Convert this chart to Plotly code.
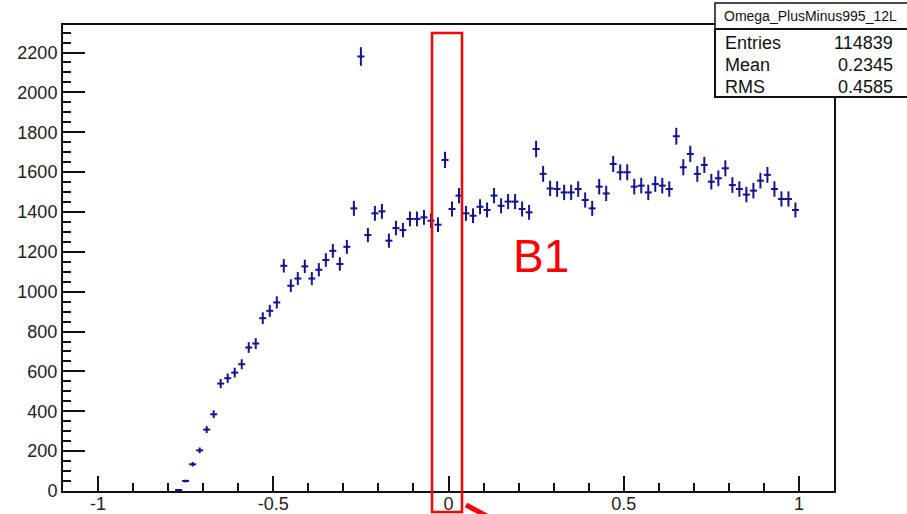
import numpy as np
import plotly.graph_objects as go

# Histogram of Omega_PlusMinus995_12L: filled bins, width 0.02, starting at -0.78
bin_low_edge = -0.78
bin_width = 0.02
counts = [
    5, 50, 134, 204, 308, 385, 539, 566, 594, 636,
    720, 740, 867, 904, 946, 1130, 1030, 1066, 1127, 1066,
    1110, 1159, 1205, 1139, 1225, 1418, 2180, 1284, 1393, 1403,
    1256, 1319, 1309, 1365, 1365, 1373, 1356, 1336, 1661, 1415,
    1482, 1393, 1381, 1426, 1410, 1482, 1431, 1452, 1452, 1415,
    1398, 1716, 1591, 1518, 1515, 1498, 1498, 1515, 1460, 1418,
    1527, 1493, 1641, 1599, 1599, 1527, 1532, 1498, 1540, 1532,
    1515, 1780, 1624, 1691, 1591, 1636, 1552, 1569, 1619, 1535,
    1515, 1487, 1507, 1557, 1586, 1515, 1465, 1465, 1410,
]
x_tick_vals = [-1, -0.5, 0, 0.5, 1]
x_tick_text = ["-1", "-0.5", "0", "0.5", "1"]

stats_title = "Omega_PlusMinus995_12L"
stats_rows = [("Entries", "114839"), ("Mean", "0.2345"), ("RMS", "0.4585")]

centers = bin_low_edge + bin_width * (np.arange(len(counts)) + 0.5)
errors = np.sqrt(np.array(counts, dtype=float))

W, H = 907, 514
L, R, T, B = 63, 834, 25, 491  # frame in pixels


def px(xp):
    return (xp - L) / (R - L)


def py(yp):
    return (B - yp) / (B - T)


navy = "#14148c"
fig = go.Figure()
fig.add_trace(go.Scatter(
    x=centers, y=counts, mode="markers",
    marker=dict(size=2, color=navy),
    error_x=dict(type="constant", value=bin_width / 2, width=0, thickness=2, color=navy),
    error_y=dict(type="data", array=errors, width=0, thickness=2, color=navy),
    showlegend=False, hoverinfo="x+y",
))

font_main = "Liberation Sans, Arial, Helvetica, sans-serif"
axis_common = dict(
    showline=True, linecolor="#111", linewidth=2, mirror=True, automargin=False,
    showgrid=False, zeroline=False, ticks="inside", tickcolor="#111",
    tickwidth=1.5, tickfont=dict(family=font_main, size=18, color="#222"),
)
fig.update_xaxes(
    range=[-1.1, 1.1], tickmode="array", tickvals=x_tick_vals, ticktext=x_tick_text,
    ticklen=15, ticklabelstandoff=-5,
    minor=dict(tickmode="linear", tick0=-1, dtick=0.1, ticks="inside",
               ticklen=8, tickwidth=1.5, tickcolor="#111"),
    **axis_common,
)
fig.update_yaxes(
    range=[0, 2338], tickmode="linear", tick0=0, dtick=200, ticklen=22,
    minor=dict(tickmode="linear", tick0=0, dtick=50, ticks="inside",
               ticklen=8, tickwidth=1.5, tickcolor="#111"),
    **axis_common,
)

shapes = []
# statistics box
shapes.append(dict(type="rect", xref="paper", yref="paper",
                   x0=px(715), x1=px(915), y0=py(29), y1=py(3),
                   line=dict(color="#111", width=1.5), fillcolor="white"))
shapes.append(dict(type="rect", xref="paper", yref="paper",
                   x0=px(715), x1=px(915), y0=py(97), y1=py(29),
                   line=dict(color="#111", width=2), fillcolor="white"))
# red highlight box around the central bins
shapes.append(dict(type="rect", xref="paper", yref="paper",
                   x0=px(432), x1=px(462), y0=py(512), y1=py(33),
                   line=dict(color="#ff0000", width=2.5)))
# red pointer at the bottom
shapes.append(dict(type="line", xref="paper", yref="paper",
                   x0=px(466), y0=py(505), x1=px(498), y1=py(522),
                   line=dict(color="#ff0000", width=5)))

annotations = [
    dict(text=stats_title, xref="paper", yref="paper", x=px(810), y=py(16),
         xanchor="center", yanchor="middle", showarrow=False,
         font=dict(family=font_main, size=14, color="#111")),
]
row_y = [43, 65, 87]
for (label, value), yy in zip(stats_rows, row_y):
    annotations.append(dict(text=label, xref="paper", yref="paper", x=px(723), y=py(yy),
                            xanchor="left", yanchor="middle", showarrow=False,
                            font=dict(family=font_main, size=18, color="#111")))
    annotations.append(dict(text=value, xref="paper", yref="paper", x=px(895), y=py(yy),
                            xanchor="right", yanchor="middle", showarrow=False,
                            font=dict(family=font_main, size=18, color="#111")))
annotations.append(dict(text="B1", xref="paper", yref="paper", x=px(511), y=py(256),
                        xanchor="left", yanchor="middle", showarrow=False,
                        font=dict(family=font_main, size=46, color="#ff0000")))

fig.update_layout(
    width=W, height=H, margin=dict(l=L, r=W - R, t=T, b=H - B, pad=0),
    paper_bgcolor="white", plot_bgcolor="white",
    shapes=shapes, annotations=annotations,
)
fig.write_html("out.html")
